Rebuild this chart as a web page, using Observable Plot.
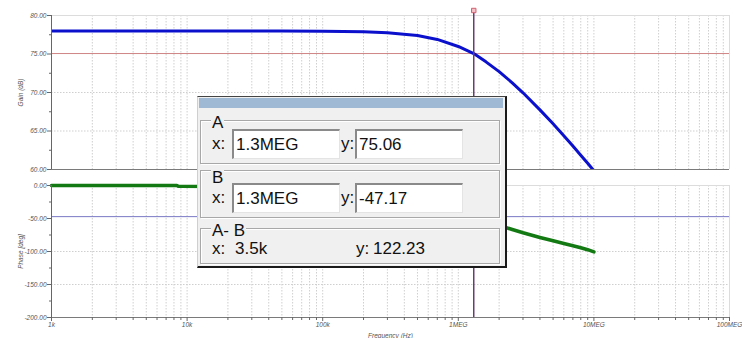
<!DOCTYPE html>
<html><head><meta charset="utf-8">
<script src="https://cdn.jsdelivr.net/npm/d3@7"></script>
<script src="https://cdn.jsdelivr.net/npm/@observablehq/plot@0.6"></script>
<style>
body{margin:0;background:#fff;}
#wrap{position:relative;width:742px;height:338px;overflow:hidden;background:#fff;font-family:"Liberation Sans",Arial,sans-serif;}
#top,#bot{position:absolute;left:0;}
#top{top:0}
#bot{top:170px}
#top svg,#bot svg{overflow:visible;max-width:none}
.dlg{position:absolute;left:197px;top:96px;width:310px;height:172px;background:#f0f0f0;border-top:1px solid #444;border-left:1px solid #cfcfcf;border-right:2px solid #1a1a1a;border-bottom:2px solid #1a1a1a;box-sizing:border-box;color:#111;}
.bar{position:absolute;left:1px;top:1px;width:304px;height:10px;background:#9fb8d3;}
.grp{position:absolute;left:2px;width:300px;border:1px solid #a8a8a8;box-shadow:inset 1px 1px #fff,1px 1px #fff;box-sizing:border-box;}
.lab{position:absolute;font-size:17px;line-height:15px;white-space:pre;}
.lg{background:#f0f0f0;padding:0 1px;}
.inp{position:absolute;height:30px;width:108px;background:#fff;border-top:2px solid #8a8a8a;border-left:2px solid #8a8a8a;border-right:1px solid #e4e4e4;border-bottom:1px solid #e4e4e4;box-sizing:border-box;font-size:17px;line-height:27px;padding-left:2px;}
</style></head>
<body>
<div id="wrap">
  <div id="top"></div>
  <div id="bot"></div>
</div>
<script>
// ---- data ----
const freqHz   = [1e3, 5e3, 8.4e3, 8.6e3, 2e4, 5e4, 1e5, 2e5, 3e5, 5e5, 7e5, 1e6, 1.3e6, 1.6e6, 2e6, 2.5e6, 3e6, 4e6, 5e6, 6e6, 7e6, 8e6, 9e6, 1e7];
const gainDb   = [78.00, 78.00, 78.00, 78.00, 78.00, 77.99, 77.97, 77.90, 77.77, 77.40, 76.89, 75.98, 75.06, 73.98, 72.71, 71.26, 69.96, 67.74, 65.93, 64.39, 63.05, 61.86, 60.80, 59.84];
const phaseDeg = [0, 0, 0, -1.3, -1.4, -2.3, -4.6, -9.1, -13.5, -21.9, -29.5, -39.3, -47.17, -53.6, -60.4, -66.7, -71.6, -78.7, -83.8, -87.8, -91.2, -94.3, -97.3, -100.5];

const cursorFreq  = [1.3e6];
const cursorGain  = [75.06];
const cursorPhase = [-47.17];

const majorFreqs  = [1e3, 1e4, 1e5, 1e6, 1e7, 1e8];
const majorLabels = ["1k", "10k", "100k", "1MEG", "10MEG", "100MEG"];
const minorMult   = [2, 3, 4, 5, 6, 7, 8, 9];
const gainTicks   = [60, 65, 70, 75, 80];
const gainMinor   = [62.5, 67.5, 72.5, 77.5];
const phaseTicks  = [-200, -150, -100, -50, 0];
const phaseMinor  = [-175, -125, -75, -25];

const dlgAx = ["1.3MEG"], dlgAy = ["75.06"];
const dlgBx = ["1.3MEG"], dlgBy = ["-47.17"];
const dlgDx = ["3.5k"],   dlgDy = ["122.23"];

// ---- build ----
const rows = freqHz.map((f, i) => ({f, gain: gainDb[i], phase: phaseDeg[i]}));
const minorFreqs = majorFreqs.slice(0, -1).flatMap(d => minorMult.map(m => d * m));
const allFreqs = majorFreqs.concat(minorFreqs);
const fmtF = d => majorLabels[majorFreqs.indexOf(d)];
const font = {fontFamily: '"Liberation Sans", Arial, sans-serif', fontSize: "6.5px", fontStyle: "italic", color: "#555", background: "transparent", overflow: "visible"};
const gridStyle = {stroke: "#cfcfcf", strokeOpacity: 1, strokeDasharray: "1.5,1.5"};
const axCol = {stroke: "#666", fill: "#555"};

const topPlot = Plot.plot({
  width: 742, height: 178, marginLeft: 51, marginRight: 13, marginTop: 15, marginBottom: 9,
  style: font,
  x: {type: "log", domain: [1e3, 1e8], axis: null},
  y: {domain: [60, 80], axis: null},
  marks: [
    Plot.gridX(allFreqs, gridStyle),
    Plot.gridY([65, 70], gridStyle),
    Plot.ruleY([80], {stroke: "#dcdcdc"}),
    Plot.ruleX([1e8], {stroke: "#dcdcdc"}),
    Plot.ruleY(cursorGain, {stroke: "#d08585", strokeWidth: 1}),
    Plot.line(rows, {x: "f", y: "gain", stroke: "#0b10cc", strokeWidth: 3, clip: true}),
    Plot.ruleY([60], {stroke: "#7a7a7a", strokeWidth: 1.2}),
    Plot.ruleX([1e3], {stroke: "#666"}),
    Plot.axisY(gainTicks, {...axCol, tickFormat: d => d.toFixed(2), tickSize: 4, tickPadding: 1, label: "Gain (dB)", labelAnchor: "center", labelOffset: 33, labelArrow: "none"}),
    Plot.axisY(gainMinor, {...axCol, tickFormat: () => "", tickSize: 2, label: null}),
    Plot.ruleX(cursorFreq, {stroke: "#6b3a78", strokeWidth: 1.5, insetTop: -5}),
    Plot.dot(cursorFreq, {x: d => d, frameAnchor: "top", dy: -5, symbol: "square", r: 2.5, fill: "#f5c0c8", stroke: "#d06070", strokeWidth: 1})
  ]
});
document.getElementById("top").appendChild(topPlot);

const botPlot = Plot.plot({
  width: 742, height: 168, marginLeft: 51, marginRight: 13, marginTop: 15, marginBottom: 21,
  style: font,
  x: {type: "log", domain: [1e3, 1e8], axis: null},
  y: {domain: [-200, 0], axis: null},
  marks: [
    Plot.gridX(allFreqs, gridStyle),
    Plot.gridY([-150, -100], gridStyle),
    Plot.ruleY([0], {stroke: "#dcdcdc"}),
    Plot.ruleX([1e8], {stroke: "#dcdcdc"}),
    Plot.ruleY(cursorPhase, {stroke: "#7878c4", strokeWidth: 1}),
    Plot.line(rows, {x: "f", y: "phase", stroke: "#137a13", strokeWidth: 3.5}),
    Plot.ruleX(cursorFreq, {stroke: "#6b3a78", strokeWidth: 1.5}),
    Plot.ruleY([-200], {stroke: "#7a7a7a", strokeWidth: 1.2}),
    Plot.ruleX([1e3], {stroke: "#666"}),
    Plot.axisY(phaseTicks, {...axCol, tickFormat: d => d.toFixed(2), tickSize: 4, tickPadding: 1, label: "Phase [deg]", labelAnchor: "center", labelOffset: 33, labelArrow: "none"}),
    Plot.axisY(phaseMinor, {...axCol, tickFormat: () => "", tickSize: 2, label: null}),
    Plot.axisX(majorFreqs, {...axCol, tickFormat: fmtF, tickSize: 4, tickPadding: 1, label: "Frequency (Hz)", labelAnchor: "center", labelOffset: 20, labelArrow: "none"}),
    Plot.axisX(minorFreqs, {...axCol, tickFormat: () => "", tickSize: 3, label: null})
  ]
});
document.getElementById("bot").appendChild(botPlot);

// ---- cursor readout dialog ----
const dlg = document.createElement("div");
dlg.className = "dlg";
dlg.innerHTML = `
  <div class="bar"></div>
  <div class="grp" style="top:23px;height:44px"></div>
  <div class="lab lg" style="left:13px;top:18px">A</div>
  <div class="lab" style="left:14px;top:39px">x:</div>
  <div class="inp" style="left:34px;top:32px">${dlgAx[0]}</div>
  <div class="lab" style="left:143px;top:39px">y:</div>
  <div class="inp" style="left:157px;top:32px">${dlgAy[0]}</div>
  <div class="grp" style="top:73px;height:48px"></div>
  <div class="lab lg" style="left:13px;top:73px">B</div>
  <div class="lab" style="left:14px;top:93px">x:</div>
  <div class="inp" style="left:34px;top:86px">${dlgBx[0]}</div>
  <div class="lab" style="left:143px;top:93px">y:</div>
  <div class="inp" style="left:157px;top:86px">${dlgBy[0]}</div>
  <div class="grp" style="top:131px;height:36px"></div>
  <div class="lab lg" style="left:13px;top:126px">A- B</div>
  <div class="lab" style="left:14px;top:144px">x:</div>
  <div class="lab" style="left:37px;top:144px">${dlgDx[0]}</div>
  <div class="lab" style="left:158px;top:144px">y:</div>
  <div class="lab" style="left:175px;top:144px">${dlgDy[0]}</div>
`;
document.getElementById("wrap").appendChild(dlg);
</script>
</body></html>
